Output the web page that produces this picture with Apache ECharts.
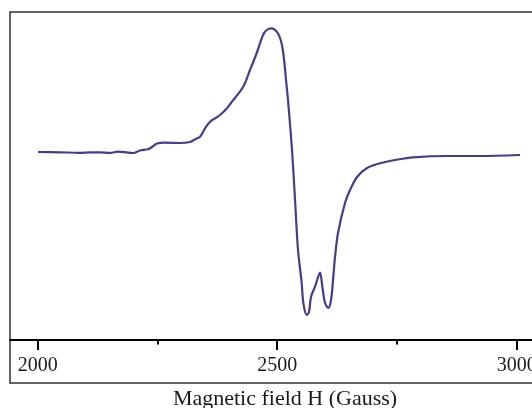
<!DOCTYPE html>
<html>
<head>
<meta charset="utf-8">
<script src="https://cdn.jsdelivr.net/npm/echarts@6/dist/echarts.min.js"></script>
<style>
  html, body { margin: 0; padding: 0; background: #fff; }
  #chart { width: 532px; height: 408px; }
</style>
</head>
<body>
<div id="chart"></div>
<script>
// EPR derivative spectrum: field in Gauss, intensity in arbitrary units
const fieldGauss = [
  2000.6, 2046.6, 2088.3, 2109.2, 2130.0, 2151.0, 2167.6, 2182.3, 2199.0,
  2213.6, 2230.3, 2238.6, 2249.0, 2265.8, 2297.0, 2318.0, 2328.6, 2339.0,
  2349.3, 2359.7, 2370.1, 2380.6, 2395.2, 2405.6, 2428.6, 2443.2, 2457.2,
  2470.4, 2478.1, 2488.5, 2499.0, 2507.3, 2512.7, 2518.4, 2522.5, 2530.9,
  2537.2, 2543.4, 2551.1, 2554.5, 2561.6, 2566.4, 2570.6, 2578.9, 2589.4,
  2594.2, 2599.8, 2606.7, 2612.3, 2617.1, 2620.7, 2626.9, 2641.5, 2652.0,
  2666.6, 2687.5, 2714.6, 2752.0, 2783.5, 2854.5, 2923.4, 3006.9
];
const intensity = [
  3.0, 2.7, 2.2, 2.7, 2.7, 2.2, 3.3, 2.8, 2.0,
  4.5, 5.7, 8.0, 11.5, 12.3, 12.0, 13.0, 15.7, 18.3,
  26.7, 33.3, 36.7, 40.0, 46.7, 53.3, 68.0, 85.0, 102.0,
  120.0, 125.0, 126.7, 123.3, 115.0, 102.0, 75.0, 55.0, 5.0,
  -45.0, -95.0, -128.0, -148.0, -160.0, -156.7, -141.7, -131.7, -117.7,
  -131.7, -148.0, -153.0, -145.0, -121.7, -101.7, -78.0, -48.0, -35.0,
  -22.0, -13.0, -8.3, -4.5, -2.3, -1.0, -1.0, 0.0
];
const majorTicks = [2000, 2500, 3000];
const minorTicks = [2250, 2750];
const axisTitle = 'Magnetic field H (Gauss)';

const serif = '"Liberation Serif", "DejaVu Serif", serif';
const fieldMin = 1942.2;
const fieldMax = 3050;

const chart = echarts.init(document.getElementById('chart'));
chart.setOption({
  animation: false,
  grid: {
    left: 10, top: 12, width: 530.7, bottom: 25,
    outerBoundsMode: 'none', containLabel: false,
    show: true, borderColor: '#333', borderWidth: 1.5, backgroundColor: '#fff'
  },
  xAxis: [
    {
      type: 'value', min: fieldMin, max: fieldMax, offset: -43, position: 'bottom',
      axisLine: { show: true, onZero: false, lineStyle: { color: '#000', width: 2 } },
      axisTick: { show: true, length: 10, customValues: majorTicks, lineStyle: { color: '#000', width: 2 } },
      axisLabel: {
        show: true, customValues: majorTicks, margin: 16,
        formatter: v => String(v),
        fontFamily: serif, fontSize: 20, color: '#1a1a1a'
      },
      splitLine: { show: false }
    },
    {
      type: 'value', min: fieldMin, max: fieldMax, offset: -43, position: 'bottom',
      axisLine: { show: false, onZero: false },
      axisTick: { show: true, length: 4.5, customValues: minorTicks, lineStyle: { color: '#000', width: 2 } },
      axisLabel: { show: false },
      splitLine: { show: false }
    }
  ],
  yAxis: {
    type: 'value', min: -228, max: 143,
    axisLine: { show: false }, axisTick: { show: false },
    axisLabel: { show: false }, splitLine: { show: false }
  },
  series: [{
    type: 'line',
    xAxisIndex: 0,
    data: fieldGauss.map((g, i) => [g, intensity[i]]),
    showSymbol: false,
    smooth: 0.3,
    lineStyle: { color: '#4a3a8e', width: 2.2 }
  }],
  graphic: [{
    type: 'text',
    x: 285, y: 399,
    style: {
      text: axisTitle,
      font: '22px ' + serif,
      fill: '#1a1a1a',
      textAlign: 'center',
      textVerticalAlign: 'middle'
    }
  }]
});
</script>
</body>
</html>
